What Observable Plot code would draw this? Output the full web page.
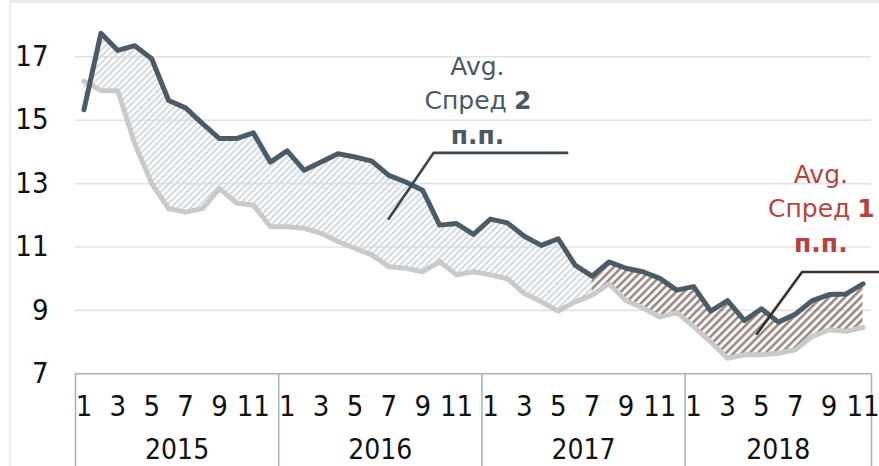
<!DOCTYPE html>
<html>
<head>
<meta charset="utf-8">
<script src="https://cdn.jsdelivr.net/npm/d3@7"></script>
<script src="https://cdn.jsdelivr.net/npm/@observablehq/plot@0.6"></script>
<style>
  html, body { margin: 0; padding: 0; background: #fff; }
  #wrap { position: relative; width: 879px; height: 466px; overflow: hidden; }
  #edge { position: absolute; left: 9px; top: 0; width: 870px; height: 466px;
          border-left: 2px solid #eceff1; border-top: 3px solid #e8ecef; box-sizing: border-box; pointer-events: none; }
</style>
</head>
<body>
<svg width="0" height="0" style="position:absolute">
  <defs>
    <pattern id="hatchLight" patternUnits="userSpaceOnUse" width="4.6" height="4.6" patternTransform="rotate(45)">
      <rect x="0" y="0" width="2.1" height="4.6" fill="#d3dae0"></rect>
    </pattern>
    <pattern id="hatchBrown" patternUnits="userSpaceOnUse" width="5.6" height="5.6" patternTransform="rotate(45)">
      <rect x="0" y="0" width="2.6" height="5.6" fill="#9d8780"></rect>
    </pattern>
  </defs>
</svg>
<div id="wrap"><div id="chart"></div><div id="edge"></div></div>
<script>
// ---- data (Jan 2015 – Nov 2018, monthly) ----
const years = [2015, 2016, 2017, 2018];
const monthsPerYear = [12, 12, 12, 11];
const seriesDark = [15.33, 17.74, 17.2, 17.35, 16.94, 15.62, 15.39, 14.89, 14.42, 14.42, 14.6, 13.68,
                    14.03, 13.42, 13.68, 13.94, 13.84, 13.71, 13.26, 13.05, 12.79, 11.69, 11.74, 11.4,
                    11.88, 11.76, 11.34, 11.05, 11.26, 10.43, 10.08, 10.53, 10.33, 10.22, 10.01, 9.64,
                    9.75, 8.98, 9.31, 8.68, 9.05, 8.63, 8.88, 9.31, 9.5, 9.52, 9.84];
const seriesGrey = [16.23, 15.94, 15.92, 14.26, 13.0, 12.21, 12.1, 12.21, 12.84, 12.39, 12.32, 11.64,
                    11.64, 11.59, 11.43, 11.17, 10.96, 10.75, 10.38, 10.33, 10.22, 10.54, 10.12, 10.22,
                    10.12, 10.0, 9.53, 9.27, 8.98, 9.27, 9.48, 9.84, 9.31, 9.08, 8.79, 8.94,
                    8.49, 8.01, 7.49, 7.6, 7.6, 7.65, 7.76, 8.18, 8.39, 8.34, 8.46];
const yTicks = [7, 9, 11, 13, 15, 17];
const splitIndex = 30; // spread period switch (Jul 2017)
const note1Text = ["Avg.", "Спред", "2", "п.п."];
const note2Text = ["Avg.", "Спред", "1", "п.п."];
const note1Anchor = {x: 23.23, y: [16.694, 15.59, 14.486]};
const note2Anchor = {x: 43.51, y: [13.287, 12.183, 11.079]};
const leader1 = [{x: 17.99, y: 11.89}, {x: 20.65, y: 13.97}, {x: 28.53, y: 13.97}];
const leader2 = [{x: 39.74, y: 8.26}, {x: 42.40, y: 10.21}, {x: 46.96, y: 10.21}];

// ---- derived table ----
const rows = [];
years.forEach((yr, k) => {
  for (let m = 1; m <= monthsPerYear[k]; m++) {
    const i = rows.length;
    rows.push({i, year: yr, month: m, dark: seriesDark[i], grey: seriesGrey[i]});
  }
});
const n = rows.length;
const monthTicks = rows.filter(d => d.month % 2 === 1).map(d => d.i);
const yearCenters = years.map(yr => d3.mean(rows.filter(d => d.year === yr), d => d.i));
const yearBounds = [-0.5];
years.forEach(yr => yearBounds.push(d3.max(rows.filter(d => d.year === yr), d => d.i) + 0.5));

const FONT_AX = "DejaVu Sans Condensed";
const FONT_NOTE = "DejaVu Sans";
const C1 = "#4a5864", C2 = "#b5423e";

function noteMarks(txt, a, color) {
  return [
    Plot.text([txt[0]], {x: () => a.x, y: () => a.y[0], text: d => d, fill: color, fontSize: 25, fontFamily: FONT_NOTE}),
    Plot.text([txt[1]], {x: () => a.x, y: () => a.y[1], text: d => d, fill: color, fontSize: 25, fontFamily: FONT_NOTE, textAnchor: "end", dx: 29.5}),
    Plot.text([txt[2]], {x: () => a.x, y: () => a.y[1], text: d => d, fill: color, fontSize: 25, fontFamily: FONT_NOTE, fontWeight: "bold", textAnchor: "start", dx: 36.5}),
    Plot.text([txt[3]], {x: () => a.x, y: () => a.y[2], text: d => d, fill: color, fontSize: 25, fontFamily: FONT_NOTE, fontWeight: "bold"})
  ];
}

const chart = Plot.plot({
  width: 879,
  height: 466,
  marginLeft: 75,
  marginRight: 8,
  marginTop: 24.6,
  marginBottom: 92.7,
  style: {fontFamily: FONT_AX, color: "#111", background: "transparent"},
  x: {type: "linear", domain: [-0.5, n - 0.5]},
  y: {domain: [7, 18]},
  marks: [
    Plot.ruleY(yTicks.filter(t => t > 7), {stroke: "#dde3e8", strokeWidth: 1.6}),
    Plot.areaY(rows.filter(d => d.i <= splitIndex), {x: "i", y1: "grey", y2: "dark", fill: "url(#hatchLight)"}),
    Plot.areaY(rows.filter(d => d.i >= splitIndex), {x: "i", y1: "grey", y2: "dark", fill: "url(#hatchBrown)"}),
    Plot.line(rows, {x: "i", y: "grey", stroke: "#cacaca", strokeWidth: 5, strokeLinejoin: "round"}),
    Plot.line(rows, {x: "i", y: "dark", stroke: "#4b5b68", strokeWidth: 5, strokeLinejoin: "round"}),
    Plot.line(leader1, {x: "x", y: "y", stroke: "#3b4650", strokeWidth: 2.6}),
    Plot.line(leader2, {x: "x", y: "y", stroke: "#3d2f2b", strokeWidth: 2.6}),
    ...noteMarks(note1Text, note1Anchor, C1),
    ...noteMarks(note2Text, note2Anchor, C2),
    Plot.ruleY([7], {stroke: "#a9b4bf", strokeWidth: 1.6}),
    Plot.ruleX(yearBounds, {y1: 7, y2: 3.5, stroke: "#a9b4bf", strokeWidth: 1.6}),
    Plot.axisY({ticks: yTicks, tickSize: 0, tickPadding: 27, fontSize: 29, fontFamily: FONT_AX}),
    Plot.axisX({ticks: monthTicks, tickFormat: i => String(rows[i].month), tickSize: 0, tickPadding: 22, fontSize: 29, fontFamily: FONT_AX}),
    Plot.axisX({ticks: yearCenters, tickFormat: (v, k) => String(years[k]), tickSize: 0, tickPadding: 65, fontSize: 28, fontFamily: FONT_AX})
  ]
});
document.getElementById("chart").appendChild(chart);
</script>
</body>
</html>
